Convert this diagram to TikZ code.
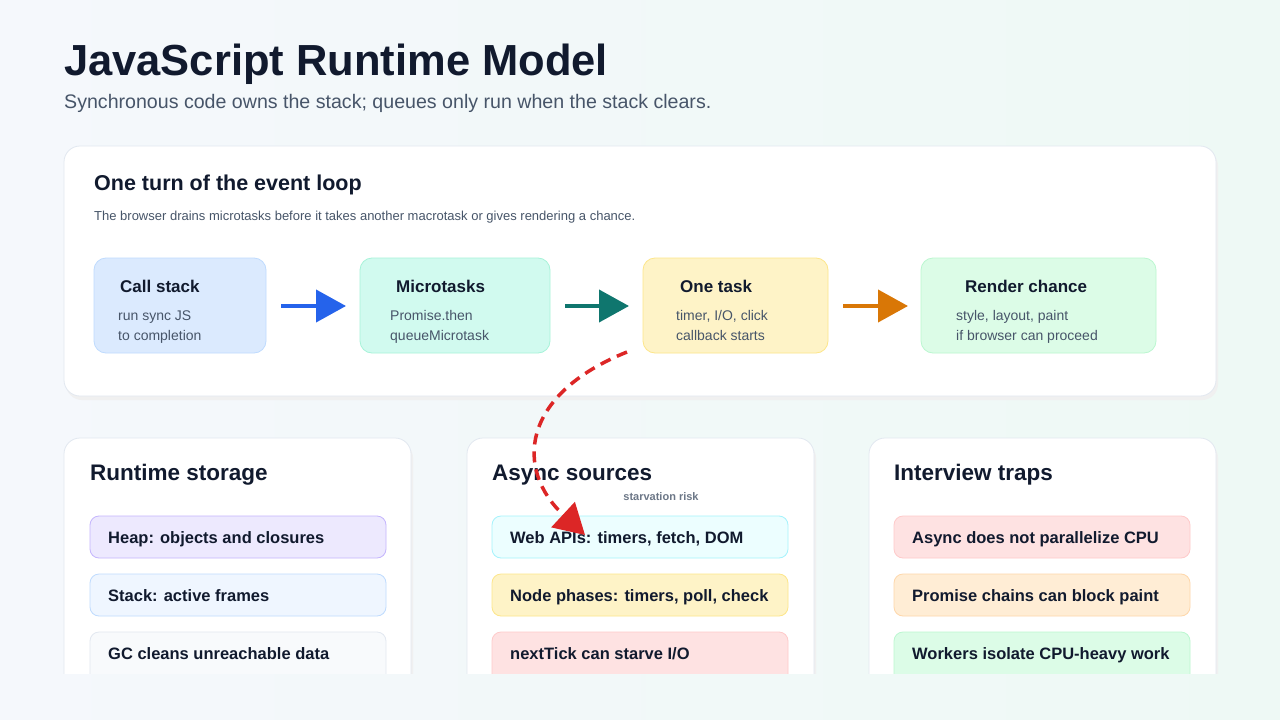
\documentclass[tikz,border=0pt]{standalone}
\usepackage{fontspec}
\setmainfont{Liberation Sans}
\usetikzlibrary{arrows.meta}
\definecolor{ink}{HTML}{111A2E}
\definecolor{sub}{HTML}{475569}
\definecolor{line}{HTML}{E2E8F0}
\definecolor{bgl}{HTML}{F5F8FC}
\definecolor{bgr}{HTML}{EEF9F5}
\definecolor{blueF}{HTML}{DBEAFE}\definecolor{blueD}{HTML}{BFDBFE}
\definecolor{tealF}{HTML}{D1FAEF}\definecolor{tealD}{HTML}{A7F3D9}
\definecolor{amberF}{HTML}{FEF3C7}\definecolor{amberD}{HTML}{FDE68A}
\definecolor{greenF}{HTML}{DCFCE7}\definecolor{greenD}{HTML}{BBF7D0}
\definecolor{violetF}{HTML}{EDE9FE}\definecolor{violetD}{HTML}{C4B5FD}
\definecolor{skyF}{HTML}{EFF6FF}
\definecolor{slateF}{HTML}{F8FAFC}
\definecolor{cyanF}{HTML}{ECFEFF}\definecolor{cyanD}{HTML}{A5F3FC}
\definecolor{redF}{HTML}{FEE2E2}\definecolor{redD}{HTML}{FECACA}
\definecolor{orangeF}{HTML}{FFEDD5}\definecolor{orangeD}{HTML}{FED7AA}
\definecolor{arrBlue}{HTML}{2563EB}
\definecolor{arrTeal}{HTML}{0F766E}
\definecolor{arrOrange}{HTML}{D97706}
\definecolor{arrRed}{HTML}{DC2626}
\tikzset{
  x=1pt,y=-1pt,
  every node/.style={inner sep=0pt},
  card/.style={draw=line,fill=white,rounded corners=16pt,line width=0.8pt},
  flow/.style={rounded corners=12pt,line width=0.8pt},
  item/.style={rounded corners=9pt,line width=0.8pt},
  ftitle/.style={anchor=base west,font=\bfseries\fontsize{17}{20}\selectfont,text=ink},
  fline/.style={anchor=base west,font=\fontsize{14}{17}\selectfont,text=sub},
  ctitle/.style={anchor=base west,font=\bfseries\fontsize{22.5}{26}\selectfont,text=ink},
  itext/.style={anchor=base west,font=\bfseries\fontsize{16.5}{19}\selectfont,text=ink},
  flowarrow/.style={line width=4pt,-{Triangle[length=30pt,width=32pt]}},
}
\begin{document}
\begin{tikzpicture}
\useasboundingbox (0,0) rectangle (1280,720);
\shade[left color=bgl, right color=bgr] (0,0) rectangle (1280,720);
\node[anchor=base west,font=\bfseries\fontsize{43.5}{50}\selectfont,text=ink] (title) at (64,75) {JavaScript Runtime Model};
\node[anchor=base west,font=\fontsize{19.6}{23}\selectfont,text=sub] (subtitle) at (64,108) {Synchronous code owns the stack; queues only run when the stack clears.};
% main card
\fill[black!6,rounded corners=16pt] (66,150) rectangle (1218,400);
\draw[card] (64,146) rectangle (1216,396);
\node[ctitle,font=\bfseries\fontsize{21.5}{25}\selectfont] (looptitle) at (94,190) {One turn of the event loop};
\node[anchor=base west,font=\fontsize{13}{16}\selectfont,text=sub] (cap) at (94,220) {The browser drains microtasks before it takes another macrotask or gives rendering a chance.};
% flow boxes
\draw[flow,fill=blueF,draw=blueD] (94,258) rectangle (266,353);
\node[ftitle] (t1) at (120,292) {Call stack};
\node[fline] (l1a) at (118,320) {run sync JS};
\node[fline] (l1b) at (118,340) {to completion};
\draw[flow,fill=tealF,draw=tealD] (360,258) rectangle (550,353);
\node[ftitle] (t2) at (396,292) {Microtasks};
\node[fline] (l2a) at (390,320) {Promise.then};
\node[fline] (l2b) at (390,340) {queueMicrotask};
\draw[flow,fill=amberF,draw=amberD] (643,258) rectangle (828,353);
\node[ftitle] (t3) at (680,292) {One task};
\node[fline] (l3a) at (676,320) {timer, I/O, click};
\node[fline] (l3b) at (676,340) {callback starts};
\draw[flow,fill=greenF,draw=greenD] (921,258) rectangle (1156,353);
\node[ftitle] (t4) at (965,292) {Render chance};
\node[fline] (l4a) at (956,320) {style, layout, paint};
\node[fline] (l4b) at (956,340) {if browser can proceed};
\coordinate (a1s) at (281,306); \coordinate (a1e) at (346,306);
\coordinate (a2s) at (565,306); \coordinate (a2e) at (629,306);
\coordinate (a3s) at (843,306); \coordinate (a3e) at (908,306);
\draw[flowarrow,color=arrBlue] (a1s) -- (a1e);
\draw[flowarrow,color=arrTeal] (a2s) -- (a2e);
\draw[flowarrow,color=arrOrange] (a3s) -- (a3e);
% bottom cards
\begin{scope}
\clip (0,0) rectangle (1280,673);
\foreach \x in {64,467,869}{
  \fill[black!6,rounded corners=16pt] (\x+2,442) rectangle (\x+349,690);
  \draw[card] (\x,438) rectangle (\x+347,700);
}
\draw[item,fill=violetF,draw=violetD] (90,516) rectangle (386,558);
\draw[item,fill=skyF,draw=blueD] (90,574) rectangle (386,616);
\draw[item,fill=slateF,draw=line] (90,632) rectangle (386,690);
\draw[item,fill=cyanF,draw=cyanD] (492,516) rectangle (788,558);
\draw[item,fill=amberF,draw=amberD] (492,574) rectangle (788,616);
\draw[item,fill=redF,draw=redD] (492,632) rectangle (788,690);
\draw[item,fill=redF,draw=redD] (894,516) rectangle (1190,558);
\draw[item,fill=orangeF,draw=orangeD] (894,574) rectangle (1190,616);
\draw[item,fill=greenF,draw=greenD] (894,632) rectangle (1190,690);
\end{scope}
\node[ctitle] (c1) at (90,480) {Runtime storage};
\node[ctitle] (c2) at (492,480) {Async sources};
\node[ctitle] (c3) at (894,480) {Interview traps};
\node[itext] (i1) at (108,543) {Heap: objects and closures};
\node[itext] (i2) at (108,601) {Stack: active frames};
\node[itext] (i3) at (108,659) {GC cleans unreachable data};
\node[itext] (i4) at (510,543) {Web APIs: timers, fetch, DOM};
\node[itext] (i5) at (510,601) {Node phases: timers, poll, check};
\node[itext] (i6) at (510,659) {nextTick can starve I/O};
\node[itext] (i7) at (912,543) {Async does not parallelize CPU};
\node[itext] (i8) at (912,601) {Promise chains can block paint};
\node[itext] (i9) at (912,659) {Workers isolate CPU-heavy work};
% starvation arrow
\node[anchor=base,font=\bfseries\fontsize{11}{13}\selectfont,text=sub!80] (sr) at (661,500) {starvation risk};
\coordinate (ds) at (627,352);
\coordinate (de) at (585,535);
\draw[color=arrRed,line width=3.5pt,dash pattern=on 11pt off 7pt,-{Triangle[length=30pt,width=34pt]}]
  (ds) .. controls (520,395) and (515,470) .. (de);
\end{tikzpicture}
\end{document}
